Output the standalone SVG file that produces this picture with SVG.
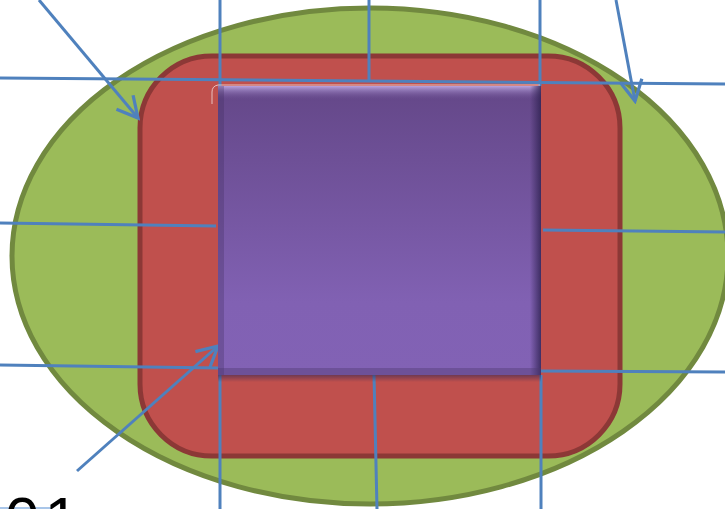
<svg xmlns="http://www.w3.org/2000/svg" width="725" height="509" viewBox="0 0 725 509">
<style>
.c{stroke:#4F81BD;stroke-width:3;fill:none}
.lbl{font-family:"Liberation Sans",Arial,sans-serif;font-size:62px;fill:#000}
</style>
<defs>
<linearGradient id="pg" x1="0" y1="0" x2="0" y2="1">
<stop offset="0" stop-color="#644788"/>
<stop offset="0.75" stop-color="#8161B3"/>
<stop offset="1" stop-color="#8262B5"/>
</linearGradient>
<linearGradient id="topHi" x1="0" y1="0" x2="0" y2="1">
<stop offset="0" stop-color="#B9A3DE"/>
<stop offset="1" stop-color="#6B4E92" stop-opacity="0"/>
</linearGradient>
<linearGradient id="rightSh" x1="0" y1="0" x2="1" y2="0">
<stop offset="0" stop-color="#2E2150" stop-opacity="0"/>
<stop offset="1" stop-color="#2E2150" stop-opacity="0.8"/>
</linearGradient>
<linearGradient id="botSh" x1="0" y1="0" x2="0" y2="1">
<stop offset="0" stop-color="#3B2A55" stop-opacity="0.6"/>
<stop offset="1" stop-color="#3B2A55" stop-opacity="0"/>
</linearGradient>
<marker id="ah" markerUnits="userSpaceOnUse" markerWidth="26" markerHeight="26" refX="21" refY="11" viewBox="0 0 24 22" orient="auto">
<path d="M2,1 L21,11 L2,21" fill="none" stroke="#4F81BD" stroke-width="3"/>
</marker>
</defs>
<g id="outer">
<ellipse cx="370" cy="256" rx="358" ry="248" fill="#9BBB59" stroke="#71893F" stroke-width="5"/>
</g>
<g id="middle">
<rect x="140" y="56" width="480" height="400" rx="72" ry="72" fill="#C0504D" stroke="#8C3836" stroke-width="5"/>
</g>
<g id="connectors">
<line class="c" x1="0" y1="78" x2="725" y2="84"/>
<line class="c" x1="220" y1="0" x2="220" y2="86"/>
<line class="c" x1="220" y1="375" x2="220" y2="509"/>
<line class="c" x1="369" y1="0" x2="369" y2="81"/>
<line class="c" x1="374" y1="375" x2="377" y2="509"/>
<line class="c" x1="540" y1="0" x2="540" y2="86"/>
<line class="c" x1="541" y1="375" x2="541" y2="509"/>
<line class="c" x1="0" y1="223" x2="216" y2="226"/>
<line class="c" x1="543" y1="230" x2="725" y2="232"/>
<line class="c" x1="0" y1="365" x2="220" y2="368"/>
<line class="c" x1="541" y1="371" x2="725" y2="372"/>
<line class="c" x1="39" y1="0" x2="138" y2="118" marker-end="url(#ah)"/>
<line class="c" x1="616" y1="0" x2="635" y2="101" marker-end="url(#ah)"/>
<line class="c" x1="77" y1="471" x2="218" y2="346" marker-end="url(#ah)"/>
<line x1="0" y1="508" x2="52" y2="508" stroke="#8DB3E2" stroke-width="1.5"/>
</g>
<g id="inner">
<rect x="218" y="375" width="323" height="7" fill="url(#botSh)"/>
<rect x="218" y="86" width="323" height="289" fill="url(#pg)"/>
<rect x="218" y="86" width="323" height="14" fill="url(#topHi)"/>
<rect x="530" y="86" width="11" height="289" fill="url(#rightSh)"/>
<rect x="218" y="86" width="6" height="289" fill="#3E2C5E" opacity="0.3"/>
<rect x="218" y="368" width="323" height="7" fill="#4E3A70" opacity="0.4"/>
<path d="M212,104 L212,92 Q212,86 218,85 L540,85" fill="none" stroke="#F2DCDB" stroke-width="1" opacity="0.8"/>
</g>
<g id="label">
<text class="lbl" x="5" y="540" letter-spacing="5">01</text>
</g>
</svg>
